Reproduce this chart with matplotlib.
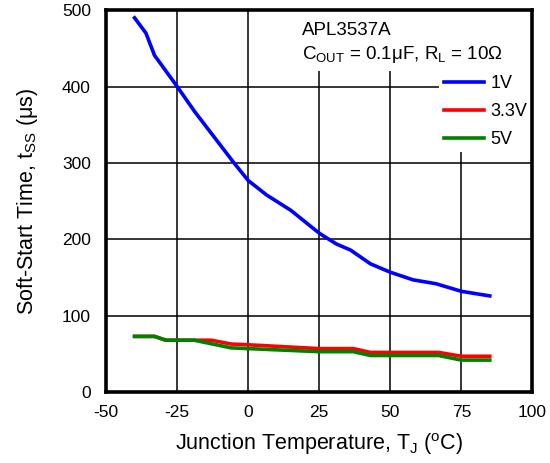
import matplotlib
matplotlib.use("Agg")
import matplotlib.pyplot as plt
from matplotlib.patches import Rectangle

plt.rcParams['font.family'] = ['Liberation Sans', 'DejaVu Sans']
plt.rcParams['mathtext.default'] = 'regular'
plt.rcParams['axes.unicode_minus'] = False

# data
temp_1v = [-40, -36, -33, -25, -19, -5, 0, 6.5, 15, 25, 31, 36, 43, 50, 58, 66, 75, 85]
tss_1v = [490, 470, 441, 400, 368, 300, 277, 258, 238, 208, 194, 186, 168, 157, 147, 142, 132, 126]

temp_33v = [-40, -33, -29, -13, -6, 0, 25, 37, 43, 67, 75, 85]
tss_33v = [73, 73, 68, 68, 63, 62, 57, 57, 52, 52, 47, 47]

temp_5v = [-40, -33, -29, -19, -6, 0, 25, 37, 43, 67, 75, 85]
tss_5v = [73, 73, 68, 68, 58, 57, 53, 53, 48, 48, 42, 42]

xticks = [-50, -25, 0, 25, 50, 75, 100]
yticks = [0, 100, 200, 300, 400, 500]

fig = plt.figure(figsize=(5.5, 4.63), dpi=100)
ax = fig.add_axes([0.193, 0.153, 0.775, 0.825])

ax.plot(temp_1v, tss_1v, color='#0000ff', lw=2.6, label='1V', zorder=4)
ax.plot(temp_33v, tss_33v, color='#ff0000', lw=2.6, label='3.3V', zorder=4)
ax.plot(temp_5v, tss_5v, color='#008000', lw=2.6, label='5V', zorder=5)

ax.set_xlim(-50, 100)
ax.set_ylim(0, 500)
ax.set_xticks(xticks)
ax.set_yticks(yticks)
ax.grid(True, color='k', lw=1.1, zorder=1)
ax.set_axisbelow(True)
ax.tick_params(length=0, labelsize=12.5)
ax.tick_params(axis='y', pad=11)
ax.tick_params(axis='x', pad=9)
for s in ax.spines.values():
    s.set_linewidth(2.6)
    s.set_zorder(6)

# white patches behind annotation and legend
ax.add_patch(Rectangle((15, 421), 85, 79, facecolor='white', edgecolor='none', zorder=2))
ax.add_patch(Rectangle((67.3, 314), 32.7, 107, facecolor='white', edgecolor='none', zorder=2))

ax.text(18.8, 467, 'APL3537A', fontsize=13.5, zorder=3)
ax.text(18.8, 436, r'C$_{OUT}$ = 0.1μF, R$_L$ = 10Ω', fontsize=13.5, zorder=3)

leg = ax.legend(loc='upper left', bbox_to_anchor=(0.764, 0.863), frameon=False,
                fontsize=13, handlelength=2.2, handletextpad=0.35,
                labelspacing=0.6, borderpad=0.2)
for line in leg.get_lines():
    line.set_linewidth(2.6)

ax.set_xlabel(r'Junction Temperature, T$_J$ ($^o$C)', fontsize=15.5, labelpad=8)
ax.set_ylabel(r'Soft-Start Time, t$_{SS}$ (μs)', fontsize=15.5, labelpad=16)

fig.savefig('out.png', dpi=100)
